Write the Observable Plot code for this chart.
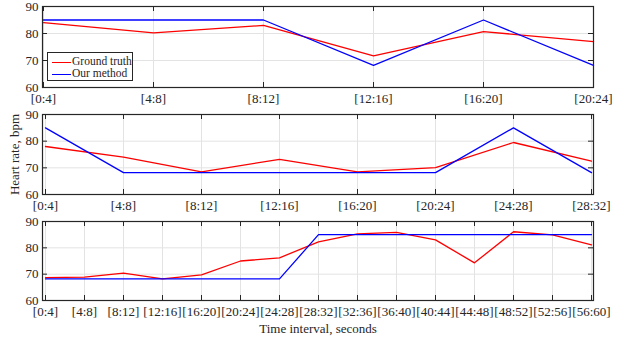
<!DOCTYPE html>
<html>
<head>
<meta charset="utf-8">
<script src="https://cdn.jsdelivr.net/npm/d3@7"></script>
<script src="https://cdn.jsdelivr.net/npm/@observablehq/plot@0.6"></script>
<style>
  body { margin: 0; background: #fff; }
  #chart { position: relative; width: 623px; height: 340px; font-family: "Liberation Serif", "Times New Roman", serif; }
  #chart svg { position: absolute; left: 0; overflow: visible; }
  .legend { position: absolute; left: 47px; top: 52px; width: 84px; height: 27px; border: 1px solid #262626; background: #fff; font-size: 11.5px; color: #262626; }
  .legend .row { position: absolute; left: 4px; height: 12px; line-height: 12px; white-space: nowrap; }
  .legend .sw { display: inline-block; width: 19px; height: 0; border-top: 1.5px solid; vertical-align: middle; margin-right: 1px; }
</style>
</head>
<body>
<div id="chart"></div>
<script>
// Heart-rate estimates per 4-second window for three recordings
const intervals1 = ["[0:4]", "[4:8]", "[8:12]", "[12:16]", "[16:20]", "[20:24]"];
const truth1  = [84, 80.2, 83, 71.7, 80.7, 77];
const method1 = [85, 85, 85, 68.2, 85, 68.2];

const intervals2 = ["[0:4]", "[4:8]", "[8:12]", "[12:16]", "[16:20]", "[20:24]", "[24:28]", "[28:32]"];
const truth2  = [78, 74, 68.5, 73.2, 68.5, 70.1, 79.5, 72.5];
const method2 = [85, 68.2, 68.2, 68.2, 68.2, 68.2, 85, 68.2];

const intervals3 = ["[0:4]", "[4:8]", "[8:12]", "[12:16]", "[16:20]", "[20:24]", "[24:28]", "[28:32]",
                    "[32:36]", "[36:40]", "[40:44]", "[44:48]", "[48:52]", "[52:56]", "[56:60]"];
const truth3  = [68.7, 68.9, 70.4, 68.2, 69.7, 75, 76.2, 82.3, 85.3, 85.9, 83, 74.3, 86.1, 84.9, 81.1];
const method3 = [68.2, 68.2, 68.2, 68.2, 68.2, 68.2, 68.2, 85, 85, 85, 85, 85, 85, 85, 85];

const seriesNames = ["Ground truth", "Our method"];
const seriesColors = ["#ff0000", "#0000ff"];
const yTicks = [60, 70, 80, 90];

const W = 623, ML = 42, MR = 30;
const ink = "#262626", gridColor = "#e3e3e3";
const font = '"Liberation Serif", "Times New Roman", serif';

function panel({intervals, truth, method, top, marginTop, inner, marginBottom, yLabel = null, xLabel = null}) {
  const rows = intervals.flatMap((t, i) => [
    {t, v: truth[i], s: seriesNames[0]},
    {t, v: method[i], s: seriesNames[1]}
  ]);
  const innerW = W - ML - MR;
  const svg = Plot.plot({
    width: W,
    height: marginTop + inner + marginBottom,
    marginTop, marginBottom, marginLeft: ML, marginRight: MR,
    style: {fontFamily: font, fontSize: "13px", color: ink, background: "transparent"},
    x: {type: "point", domain: intervals, padding: 0},
    y: {domain: [60, 90]},
    color: {domain: seriesNames, range: seriesColors},
    marks: [
      Plot.gridX(intervals, {stroke: gridColor, strokeOpacity: 1}),
      Plot.gridY(yTicks, {stroke: gridColor, strokeOpacity: 1}),
      Plot.line(rows, {x: "t", y: "v", z: "s", stroke: "s", strokeWidth: 1.3}),
      // inward tick marks on all four sides
      Plot.tickX(intervals, {x: d => d, insetTop: inner - 5, stroke: ink}),
      Plot.tickX(intervals, {x: d => d, insetBottom: inner - 5, stroke: ink}),
      Plot.tickY(yTicks, {y: d => d, insetRight: innerW - 5, stroke: ink}),
      Plot.tickY(yTicks, {y: d => d, insetLeft: innerW - 5, stroke: ink}),
      Plot.frame({stroke: ink, strokeWidth: 1.2}),
      Plot.axisX({tickSize: 0, tickPadding: 6, label: xLabel, labelAnchor: "center", labelArrow: false, labelOffset: 32, fill: ink}),
      Plot.axisY({ticks: yTicks, tickSize: 0, tickPadding: 4, label: yLabel, labelAnchor: "center", labelArrow: false, labelOffset: 33, fill: ink})
    ]
  });
  svg.style.top = top + "px";
  return svg;
}

const chart = document.getElementById("chart");
chart.append(panel({intervals: intervals1, truth: truth1, method: method1, top: 0, marginTop: 6, inner: 81, marginBottom: 20}));
chart.append(panel({intervals: intervals2, truth: truth2, method: method2, top: 107, marginTop: 7, inner: 80, marginBottom: 20, yLabel: "Heart rate, bpm"}));
chart.append(panel({intervals: intervals3, truth: truth3, method: method3, top: 213, marginTop: 8, inner: 79, marginBottom: 40, xLabel: "Time interval, seconds"}));

// legend for the top panel
const legend = document.createElement("div");
legend.className = "legend";
seriesNames.forEach((name, i) => {
  const row = document.createElement("div");
  row.className = "row";
  row.style.top = (2 + i * 12) + "px";
  const sw = document.createElement("span");
  sw.className = "sw";
  sw.style.borderColor = seriesColors[i];
  row.append(sw, document.createTextNode(name));
  legend.append(row);
});
chart.append(legend);
</script>
</body>
</html>
